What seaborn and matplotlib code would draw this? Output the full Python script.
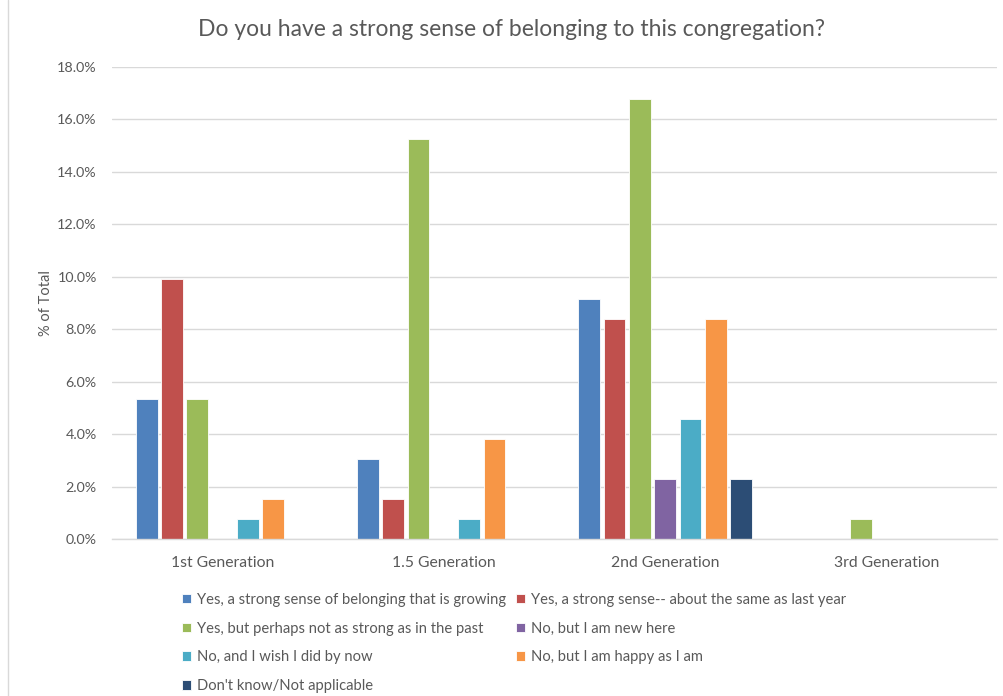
import matplotlib
matplotlib.use("Agg")
import matplotlib.pyplot as plt
from matplotlib.lines import Line2D
import seaborn as sns
import pandas as pd

categories = ["1st Generation", "1.5 Generation", "2nd Generation", "3rd Generation"]
series = [
    "Yes, a strong sense of belonging that is growing",
    "Yes, a strong sense-- about the same as last year",
    "Yes, but perhaps not as strong as in the past",
    "No, but I am new here",
    "No, and I wish I did by now",
    "No, but I am happy as I am",
    "Don't know/Not applicable",
]
# values in % of total, per series across categories
growing = [5.34, 3.05, 9.16, 0.0]
same = [9.92, 1.53, 8.40, 0.0]
not_as_strong = [5.34, 15.27, 16.79, 0.76]
new_here = [0.0, 0.0, 2.29, 0.0]
wish = [0.76, 0.76, 4.58, 0.0]
happy = [1.53, 3.82, 8.40, 0.0]
dont_know = [0.0, 0.0, 2.29, 0.0]
values = [growing, same, not_as_strong, new_here, wish, happy, dont_know]
colors = ["#4F81BD", "#C0504D", "#9BBB59", "#8064A2", "#4BACC6", "#F79646", "#2C4D75"]
yticks = [0, 2, 4, 6, 8, 10, 12, 14, 16, 18]
ytick_labels = ["0.0%", "2.0%", "4.0%", "6.0%", "8.0%", "10.0%", "12.0%", "14.0%", "16.0%", "18.0%"]
title = "Do you have a strong sense of belonging to this congregation?"
ylabel = "% of Total"

rows = []
for s, vals in zip(series, values):
    for c, v in zip(categories, vals):
        rows.append({"Generation": c, "Response": s, "Value": v})
df = pd.DataFrame(rows)

sns.set_style("white")
plt.rcParams["font.family"] = ["Lato", "DejaVu Sans"]
grey = "#595959"

fig = plt.figure(figsize=(10.04, 6.96), dpi=100)
W, H = 1004, 696
ax = fig.add_axes([112 / W, 1 - 539 / H, (997 - 112) / W, (539 - 67) / H])

sns.barplot(data=df, x="Generation", y="Value", hue="Response",
            order=categories, hue_order=series, palette=colors,
            width=0.8, gap=0.14, edgecolor="white", linewidth=0.6,
            saturation=1, ax=ax, errorbar=None)

ax.set_ylim(0, 18)
ax.set_xlim(-0.5, 3.5)
ax.set_yticks(yticks)
ax.set_yticklabels(ytick_labels)
ax.yaxis.grid(True, color="#D9D9D9", linewidth=1)
ax.set_axisbelow(True)
for sp in ["top", "right", "left"]:
    ax.spines[sp].set_visible(False)
ax.spines["bottom"].set_color("#D9D9D9")
ax.spines["bottom"].set_linewidth(1)
ax.tick_params(axis="y", length=0, colors=grey, labelsize=10.3, pad=11)
ax.tick_params(axis="x", length=0, colors=grey, labelsize=11.3, pad=12)
ax.set_xlabel("")
ax.set_ylabel(ylabel, color=grey, fontsize=10.5, labelpad=3)

handles, labels = ax.get_legend_handles_labels()
ax.get_legend().remove()
order = [0, 2, 4, 6, 1, 3, 5]
fig.legend([handles[i] for i in order], [labels[i] for i in order],
           loc="upper left", bbox_to_anchor=(176 / W, 1 - 587 / H), ncol=2,
           frameon=False, fontsize=10.6, labelcolor=grey,
           handlelength=0.6, handleheight=0.6, handletextpad=0.4,
           columnspacing=0.7, labelspacing=1.0, borderaxespad=0)

fig.text(512 / W, 1 - 30 / H, title, ha="center", va="center", fontsize=16.5, color=grey)
fig.add_artist(Line2D([8 / W, 8 / W], [0, 1], color="#D9D9D9", linewidth=1))

fig.savefig("out.png", dpi=100)
